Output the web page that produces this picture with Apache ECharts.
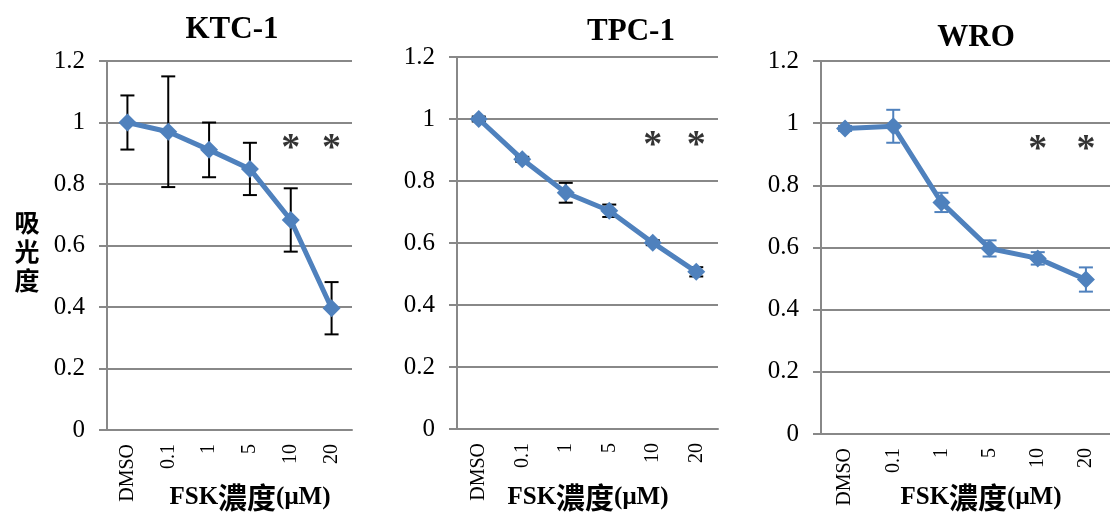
<!DOCTYPE html>
<html>
<head>
<meta charset="utf-8">
<script src="https://cdn.jsdelivr.net/npm/echarts@6/dist/echarts.min.js"></script>
<style>
  html, body { margin: 0; padding: 0; background: #fff; }
  #chart { width: 1110px; height: 513px; }
</style>
</head>
<body>
<div id="chart"></div>
<script>
// FSK concentrations (µM)
const categories = ['DMSO', '0.1', '1', '5', '10', '20'];

// Absorbance, mean and error, per cell line
const ktcMean = [1.000, 0.970, 0.911, 0.849, 0.683, 0.396];
const ktcErr  = [0.088, 0.180, 0.089, 0.085, 0.103, 0.085];

const tpcMean = [1.000, 0.870, 0.762, 0.704, 0.601, 0.507];
const tpcErr  = [0.008, 0.008, 0.032, 0.020, 0.008, 0.015];

const wroMean = [0.983, 0.990, 0.745, 0.597, 0.565, 0.497];
const wroErr  = [0.008, 0.053, 0.031, 0.026, 0.020, 0.039];

// Significance markers (level at which "*" is placed)
const starLevel = [null, null, null, null, 0.93, 0.93];

const yTicks = { min: 0, max: 1.2, interval: 0.2 };

const panelNames = ['KTC-1', 'TPC-1', 'WRO'];
const means = [ktcMean, tpcMean, wroMean];
const errs = [ktcErr, tpcErr, wroErr];

const BLUE = '#4F81BD';
const GRID_GRAY = '#888888';
const SERIF = '"Liberation Serif", "Times New Roman", serif';
const CJK = '"Noto Sans CJK TC", "Noto Sans CJK SC", sans-serif';

const grids = [
  { left: 107, right: 758, top: 61, bottom: 83 },
  { left: 457, right: 392, top: 57, bottom: 84 },
  { left: 821, right: -9, top: 61, bottom: 79 }
];
const errColors = ['#000', '#000', BLUE];

const xAxes = grids.map((g, i) => ({
  type: 'category',
  gridIndex: i,
  data: categories,
  boundaryGap: true,
  axisLine: { lineStyle: { color: GRID_GRAY, width: 2 } },
  axisTick: { length: 7, lineStyle: { color: GRID_GRAY, width: 2 } },
  axisLabel: {
    rotate: 90, margin: 14, color: '#000',
    fontFamily: SERIF, fontSize: 20, interval: 0
  }
}));

const yAxes = grids.map((g, i) => ({
  type: 'value',
  gridIndex: i,
  min: yTicks.min, max: yTicks.max, interval: yTicks.interval,
  axisLine: { show: true, lineStyle: { color: GRID_GRAY, width: 2 } },
  axisTick: { show: true, length: 8, lineStyle: { color: GRID_GRAY, width: 2 } },
  splitLine: { lineStyle: { color: GRID_GRAY, width: 2 } },
  axisLabel: {
    margin: 22, color: '#000', fontFamily: SERIF, fontSize: 25,
    formatter: v => String(+v.toFixed(1))
  }
}));

function errorBarSeries(i) {
  const color = errColors[i];
  return {
    type: 'custom',
    xAxisIndex: i, yAxisIndex: i,
    z: 1,
    silent: true,
    data: means[i].map((m, k) => [k, m - errs[i][k], m + errs[i][k]]),
    encode: { x: 0, y: [1, 2] },
    renderItem(params, api) {
      const k = api.value(0);
      const lo = api.coord([k, api.value(1)]);
      const hi = api.coord([k, api.value(2)]);
      const h = 7;
      const style = { stroke: color, lineWidth: 2 };
      return {
        type: 'group',
        children: [
          { type: 'line', shape: { x1: lo[0], y1: lo[1], x2: hi[0], y2: hi[1] }, style },
          { type: 'line', shape: { x1: lo[0] - h, y1: lo[1], x2: lo[0] + h, y2: lo[1] }, style },
          { type: 'line', shape: { x1: hi[0] - h, y1: hi[1], x2: hi[0] + h, y2: hi[1] }, style }
        ]
      };
    }
  };
}

function lineSeries(i) {
  return {
    type: 'line',
    xAxisIndex: i, yAxisIndex: i,
    z: 3,
    data: means[i],
    symbol: 'diamond',
    symbolSize: 18,
    showAllSymbol: true,
    lineStyle: { color: BLUE, width: 5 },
    itemStyle: { color: BLUE },
    animation: false
  };
}

function starSeries(i) {
  return {
    type: 'scatter',
    xAxisIndex: i, yAxisIndex: i,
    z: 4,
    symbolSize: 1,
    itemStyle: { color: 'rgba(0,0,0,0)' },
    data: starLevel,
    label: {
      show: true, position: 'inside', formatter: '*',
      color: '#000', fontFamily: SERIF, fontWeight: 'bold',
      fontSize: 38, offset: [0, 5]
    }
  };
}

const series = [];
for (let i = 0; i < 3; i++) {
  series.push(errorBarSeries(i), lineSeries(i), starSeries(i));
}

const titleCenters = [[232, 30], [631, 32], [976, 38]];
const xNameCenters = [[250, 498], [588, 498], [981, 498]];

const graphic = [];
panelNames.forEach((name, i) => {
  graphic.push({
    type: 'text',
    x: titleCenters[i][0], y: titleCenters[i][1],
    style: {
      text: name, fill: '#000',
      font: 'bold 31px ' + SERIF,
      textAlign: 'center', textVerticalAlign: 'middle'
    }
  });
  graphic.push({
    type: 'text',
    x: xNameCenters[i][0], y: xNameCenters[i][1],
    style: {
      text: '{a|FSK}{b|濃度}{a|(μM)}',
      textAlign: 'center', textVerticalAlign: 'middle',
      rich: {
        a: { fontFamily: SERIF, fontWeight: 'bold', fontSize: 25, fill: '#000' },
        b: { fontFamily: CJK, fontWeight: 'bold', fontSize: 29, fill: '#000' }
      }
    }
  });
});
graphic.push({
  type: 'text',
  x: 27, y: 251,
  style: {
    text: '吸\n光\n度', fill: '#000',
    font: 'bold 25px ' + CJK,
    lineHeight: 29,
    textAlign: 'center', textVerticalAlign: 'middle'
  }
});

const chart = echarts.init(document.getElementById('chart'), null, { renderer: 'canvas' });
chart.setOption({
  animation: false,
  backgroundColor: '#fff',
  grid: grids,
  xAxis: xAxes,
  yAxis: yAxes,
  series,
  graphic
});
</script>
</body>
</html>
